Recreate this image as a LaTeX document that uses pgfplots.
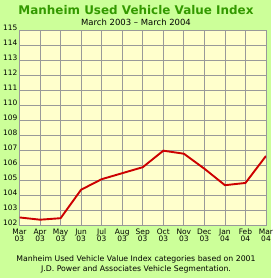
\documentclass[border=0pt]{standalone}
\usepackage{pgfplots}
\pgfplotsset{compat=1.18}
\usepackage{fontspec}
\setmainfont{DejaVu Sans}
\definecolor{bggreen}{HTML}{CCFF99}
\definecolor{plotyel}{HTML}{FFFFCC}
\definecolor{titlegreen}{HTML}{339900}
\definecolor{gridgray}{HTML}{999999}
\definecolor{linered}{HTML}{CC0000}
\newcommand{\ml}[2]{\vphantom{Ml}#1\\#2}
\begin{document}
\begin{tikzpicture}[x=1bp,y=1bp]
\fill[bggreen] (0,0) rectangle (271,278);
\begin{axis}[at={(19.5bp,52.3bp)}, anchor=south west, scale only axis,
  width=246.5bp, height=195bp,
  xmin=0, xmax=12, ymin=102, ymax=115,
  xtick={0,...,12}, ytick={102,...,115},
  xticklabels={{\ml{Mar}{03}},{\ml{Apr}{03}},{\ml{May}{03}},{\ml{Jun}{03}},{\ml{Jul}{03}},{\ml{Aug}{03}},{\ml{Sep}{03}},{\ml{Oct}{03}},{\ml{Nov}{03}},{\ml{Dec}{03}},{\ml{Jan}{04}},{\ml{Feb}{04}},{\ml{Mar}{04}}},
  xticklabel style={align=center, font=\fontsize{7.5}{7.8}\selectfont, inner sep=0.5bp, yshift=-2bp},
  yticklabel style={font=\fontsize{7.5}{7.5}\selectfont, inner sep=0.5bp, xshift=-1.5bp, yshift=3bp},
  grid=major, major grid style={gridgray, line width=0.8bp},
  axis line style={gridgray, line width=0.8bp},
  tick style={draw=none},
  axis background/.style={fill=plotyel},
  /pgf/number format/assume math mode=true,
  ]
\addplot[linered, line width=1.9bp] coordinates {
(0,102.55) (1,102.4) (2,102.5) (3,104.4) (4,105.1) (5,105.5) (6,105.9)
(7,107.0) (8,106.8) (9,105.8) (10,104.7) (11,104.85) (12,106.65)};
\end{axis}
\node[text=titlegreen, font=\fontsize{12}{12}\selectfont\bfseries] at (136,267.5) {Manheim Used Vehicle Value Index};
\node[font=\fontsize{8.5}{8.5}\selectfont] at (136,255.5) {March 2003 – March 2004};
\node[font=\fontsize{7.8}{7.8}\selectfont] at (136,19) {Manheim Used Vehicle Value Index categories based on 2001};
\node[font=\fontsize{7.8}{7.8}\selectfont] at (136,8.5) {J.D. Power and Associates Vehicle Segmentation.};
\end{tikzpicture}
\end{document}
